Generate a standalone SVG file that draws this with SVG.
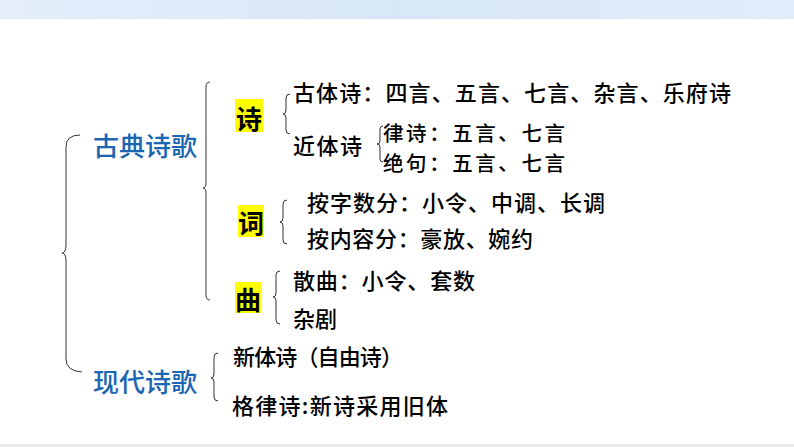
<svg xmlns="http://www.w3.org/2000/svg" width="794" height="447" viewBox="0 0 794 447">
<style>
.brace{fill:none;stroke:#333;stroke-width:1;}
.t{font-family:"Noto Sans CJK SC","Noto Sans CJK TC",sans-serif;font-size:22px;font-weight:500;fill:#000;}
.s{font-size:20.5px;}
.h{font-family:"Noto Sans CJK SC",sans-serif;font-size:26px;font-weight:500;fill:#1a66b3;}
.k{font-family:"Noto Sans CJK SC",sans-serif;font-size:26px;font-weight:bold;fill:#000;text-anchor:middle;}
.hl{fill:#ffff00;}
</style>
<defs>
<linearGradient id="band" x1="0" y1="0" x2="1" y2="0">
<stop offset="0" stop-color="#e3eefa"/>
<stop offset="0.5" stop-color="#d8e7f7"/>
<stop offset="1" stop-color="#e0ecf9"/>
</linearGradient>
</defs>
<rect x="0" y="0" width="794" height="447" fill="#ffffff"/>
<rect x="0" y="0" width="794" height="19" fill="url(#band)"/>
<rect x="0" y="444" width="794" height="3" fill="#e6e8ea"/>

<g id="connectors">
<path class="brace" d="M80,135 Q66,135 66,147 L66,245 Q66,253 62,253 Q66,253 66,261 L66,359 Q66,371 82,372"/>
<path class="brace" d="M210,82 Q206,82 206,87 L206,183 Q206,188 203,188 Q206,188 206,193 L206,295 Q206,300 210,300"/>
<path class="brace" d="M290,94 Q286,94 286,98 L286,110 Q286,114 283,114 Q286,114 286,118 L286,130 Q286,134 290,134"/>
<path class="brace" d="M383,126 Q380,126 380,129 L380,141 Q380,144 377,144 Q380,144 380,147 L380,159 Q380,162 383,162"/>
<path class="brace" d="M287,200 Q283,200 283,204 L283,218 Q283,222 280,222 Q283,222 283,226 L283,240 Q283,244 287,244"/>
<path class="brace" d="M280,271 Q276,271 276,275 L276,293 Q276,297 273,297 Q276,297 276,301 L276,320 Q276,324 280,324"/>
<path class="brace" d="M218,353 Q214,353 214,357 L214,374 Q214,378 211,378 Q214,378 214,382 L214,397 Q214,401 218,401"/>
</g>

<g id="classical"><text class="h" x="93" y="156">古典诗歌</text></g>
<g id="modern"><text class="h" x="93" y="392">现代诗歌</text></g>

<g id="shi">
<rect class="hl" x="235" y="99" width="28" height="33"/>
<text class="k" x="249" y="129">诗</text>
</g>
<g id="ci">
<rect class="hl" x="238" y="205" width="26" height="32"/>
<text class="k" x="251" y="233">词</text>
</g>
<g id="qu">
<rect class="hl" x="235" y="282" width="26" height="31"/>
<text class="k" x="248" y="310">曲</text>
</g>

<g id="guti"><text class="t" x="293" y="101" textLength="438" lengthAdjust="spacing">古体诗：四言、五言、七言、杂言、乐府诗</text></g>
<g id="jinti"><text class="t" x="293" y="154" textLength="69" lengthAdjust="spacing">近体诗</text></g>
<g id="lvshi"><text class="t s" x="383" y="141" textLength="182" lengthAdjust="spacing">律诗：五言、七言</text></g>
<g id="jueju"><text class="t s" x="383" y="170.5" textLength="182" lengthAdjust="spacing">绝句：五言、七言</text></g>
<g id="ci-zishu"><text class="t" x="307" y="211" textLength="298" lengthAdjust="spacing">按字数分：小令、中调、长调</text></g>
<g id="ci-neirong"><text class="t" x="307" y="247" textLength="226" lengthAdjust="spacing">按内容分：豪放、婉约</text></g>
<g id="sanqu"><text class="t" x="293" y="289" textLength="182" lengthAdjust="spacing">散曲：小令、套数</text></g>
<g id="zaju"><text class="t" x="293" y="327" textLength="44" lengthAdjust="spacing">杂剧</text></g>
<g id="xinti"><text class="t" x="233" y="365" textLength="170" lengthAdjust="spacing">新体诗（自由诗）</text></g>
<g id="gelv"><text class="t" x="232" y="414" textLength="216" lengthAdjust="spacing">格律诗:新诗采用旧体</text></g>
</svg>
